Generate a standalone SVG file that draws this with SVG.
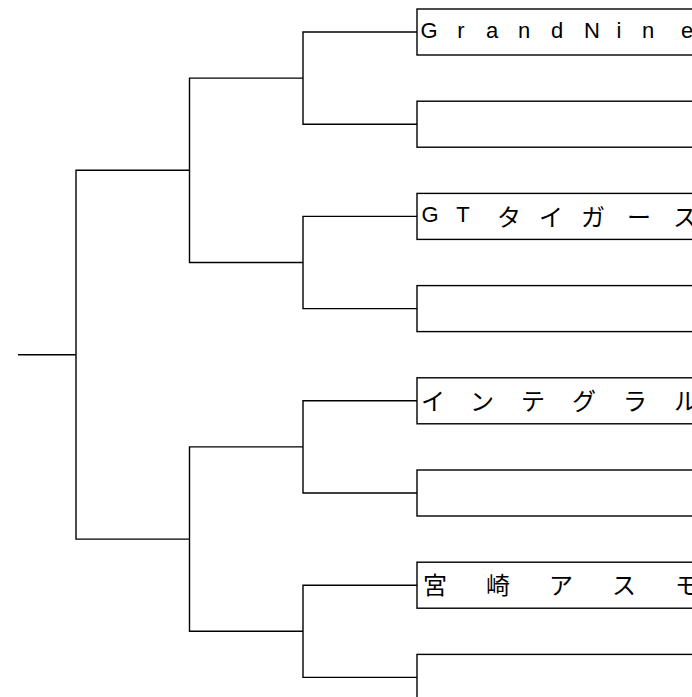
<svg xmlns="http://www.w3.org/2000/svg" width="692" height="697" viewBox="0 0 692 697">
<style>
.box{fill:#fff;stroke:#000;stroke-width:1.4}
.ln{fill:none;stroke:#000;stroke-width:1.4}
.lat{font-family:"Liberation Sans",Arial,sans-serif;font-size:22px;fill:#000;text-anchor:middle}
.cjk{font-family:"Noto Sans CJK JP","Noto Sans CJK SC",sans-serif;font-size:24px;fill:#000;text-anchor:middle}
</style>
<rect width="692" height="697" fill="#fff"/>
<g id="connectors">
<path class="ln" d="M417,32 H303 V124.2 H417"/>
<path class="ln" d="M417,216.4 H303 V308.6 H417"/>
<path class="ln" d="M417,400.8 H303 V493 H417"/>
<path class="ln" d="M417,585.2 H303 V677.4 H417"/>
<path class="ln" d="M303,78.1 H189.5 V262.5 H303"/>
<path class="ln" d="M303,446.9 H189.5 V631.3 H303"/>
<path class="ln" d="M189.5,170.3 H76 V539.1 H189.5"/>
<path class="ln" d="M76,354.7 H18"/>
</g>
<g id="team1">
<rect class="box" x="417" y="9" width="290" height="46"/>
<text class="lat" x="429 461 492 524 557 592 619 648 687" y="37.5">GrandNine</text>
</g>
<g id="team2">
<rect class="box" x="417" y="101.2" width="290" height="46"/>
</g>
<g id="team3">
<rect class="box" x="417" y="193.4" width="290" height="46"/>
<text class="lat" x="430 463" y="222">GT</text>
<text class="cjk" x="509 551 593 639 685" y="225.6">タイガース</text>
</g>
<g id="team4">
<rect class="box" x="417" y="285.6" width="290" height="46"/>
</g>
<g id="team5">
<rect class="box" x="417" y="377.8" width="290" height="46"/>
<text class="cjk" x="433 482 533 584 635 686" y="409.8">インテグラル</text>
</g>
<g id="team6">
<rect class="box" x="417" y="470" width="290" height="46"/>
</g>
<g id="team7">
<rect class="box" x="417" y="562.2" width="290" height="46"/>
<text class="cjk" x="435 498 561 624 687" y="594.2">宮崎アスモ</text>
</g>
<g id="team8">
<rect class="box" x="417" y="654.4" width="290" height="60"/>
</g>
</svg>
